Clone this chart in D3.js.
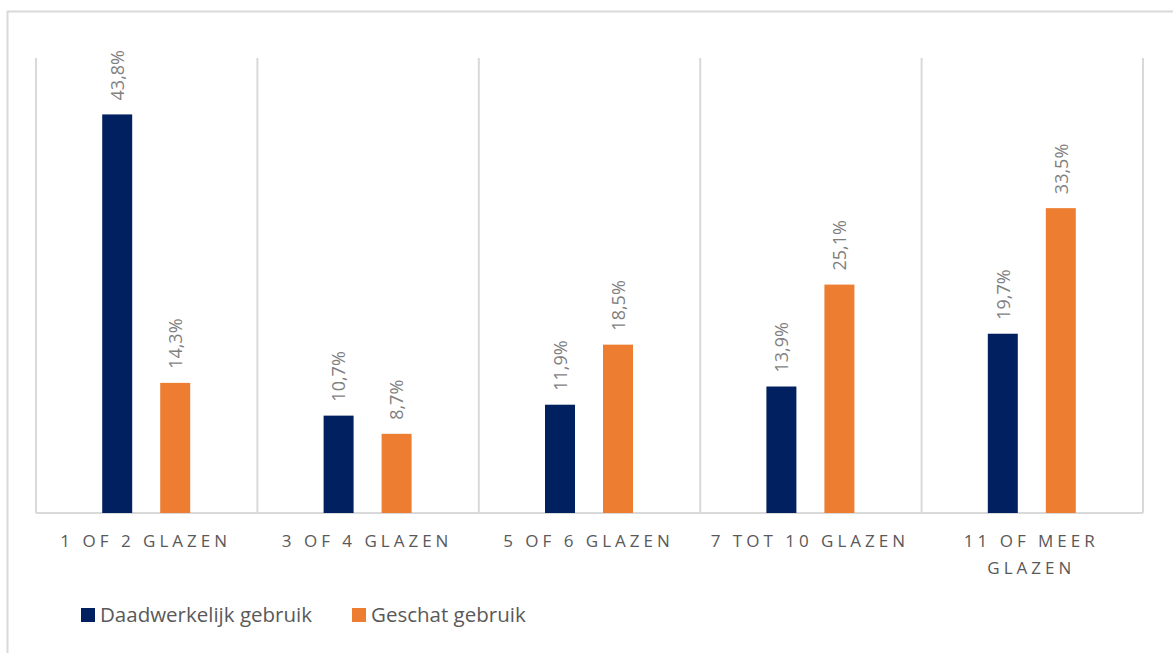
<!DOCTYPE html>
<html>
<head>
<meta charset="utf-8">
<script src="https://cdn.jsdelivr.net/npm/d3@7"></script>
<style>
  body { margin: 0; background: #fff; }
  text { font-family: "Open Sans", sans-serif; }
</style>
</head>
<body>
<div id="chart"></div>
<script>
// data
var categories = ['1 of 2 glazen', '3 of 4 glazen', '5 of 6 glazen', '7 tot 10 glazen', '11 of meer glazen'];
var seriesNames = ['Daadwerkelijk gebruik', 'Geschat gebruik'];
var actual = [43.8, 10.7, 11.9, 13.9, 19.7];
var estimated = [14.3, 8.7, 18.5, 25.1, 33.5];
var colors = ['#002060', '#ED7D31'];

var width = 1173, height = 653;
var margin = {top: 58, left: 36, right: 30, bottom: 140};

var svg = d3.select('#chart')
    .append('svg')
    .attr('width', width)
    .attr('height', height);

// outer chart border (runs off the right and bottom edges)
svg.append('rect')
    .attr('x', 7.5)
    .attr('y', 11.5)
    .attr('width', width + 20)
    .attr('height', height + 20)
    .attr('fill', 'none')
    .attr('stroke', '#d9d9d9')
    .attr('stroke-width', 2);

var plotBottom = 513;
var plotRight = 1143;

var x0 = d3.scaleBand()
    .domain(categories)
    .range([margin.left, plotRight])
    .padding(0);

var x1 = d3.scaleBand()
    .domain(seriesNames)
    .range([0, x0.bandwidth()])
    .paddingInner(0.483)
    .paddingOuter(1.15);

var y = d3.scaleLinear()
    .domain([0, 50])
    .range([plotBottom, margin.top]);

// vertical separators
var bounds = categories.map(function(c){ return x0(c); }).concat([plotRight]);
svg.append('g')
    .selectAll('line')
    .data(bounds)
    .enter()
    .append('line')
    .attr('x1', function(d){ return d; })
    .attr('x2', function(d){ return d; })
    .attr('y1', margin.top)
    .attr('y2', plotBottom)
    .attr('stroke', '#d9d9d9')
    .attr('stroke-width', 2);

// baseline
svg.append('line')
    .attr('x1', margin.left)
    .attr('x2', plotRight)
    .attr('y1', plotBottom)
    .attr('y2', plotBottom)
    .attr('stroke', '#d9d9d9')
    .attr('stroke-width', 2);

var rows = [];
categories.forEach(function(c, i){
    rows.push({cat: c, s: seriesNames[0], v: actual[i], col: colors[0]});
    rows.push({cat: c, s: seriesNames[1], v: estimated[i], col: colors[1]});
});

svg.append('g')
    .selectAll('rect')
    .data(rows)
    .enter()
    .append('rect')
    .attr('x', function(d){ return x0(d.cat) + x1(d.s) - 0.5; })
    .attr('y', function(d){ return y(d.v); })
    .attr('width', x1.bandwidth())
    .attr('height', function(d){ return plotBottom - y(d.v); })
    .attr('fill', function(d){ return d.col; });

// value labels
svg.append('g')
    .selectAll('text')
    .data(rows)
    .enter()
    .append('text')
    .attr('transform', function(d){
        var cx = x0(d.cat) + x1(d.s) + x1.bandwidth() / 2;
        return 'translate(' + cx + ',' + (y(d.v) - 14) + ') rotate(-90)';
    })
    .attr('dy', '0.35em')
    .attr('font-size', 18)
    .attr('fill', '#7f7f7f')
    .text(function(d){ return d.v.toFixed(1).replace('.', ',') + '%'; });

// category labels (wrap when too wide)
var catLabels = svg.append('g')
    .selectAll('text')
    .data(categories)
    .enter()
    .append('text')
    .attr('x', function(d){ return x0(d) + x0.bandwidth() / 2 - 1; })
    .attr('y', 547)
    .attr('text-anchor', 'middle')
    .attr('font-size', 17)
    .attr('letter-spacing', '4px')
    .attr('fill', '#595959');

catLabels.each(function(d){
    var t = d3.select(this);
    var words = d.toUpperCase().split(' ');
    var line = [];
    var cx = t.attr('x');
    var tspan = t.append('tspan').attr('x', cx).attr('dy', 0);
    words.forEach(function(w){
        line.push(w);
        tspan.text(line.join(' '));
        if (tspan.node().getComputedTextLength() > 210 && line.length > 1) {
            line.pop();
            tspan.text(line.join(' '));
            line = [w];
            tspan = t.append('tspan').attr('x', cx).attr('dy', '1.6em').text(w);
        }
    });
});

// legend
var legend = svg.append('g');
var legendX = [81, 352];
seriesNames.forEach(function(s, i){
    legend.append('rect')
        .attr('x', legendX[i])
        .attr('y', 608)
        .attr('width', 14)
        .attr('height', 14)
        .attr('fill', colors[i]);
    legend.append('text')
        .attr('x', legendX[i] + 19)
        .attr('y', 622)
        .attr('font-size', 20.5)
        .attr('fill', '#595959')
        .text(s);
});
</script>
</body>
</html>
